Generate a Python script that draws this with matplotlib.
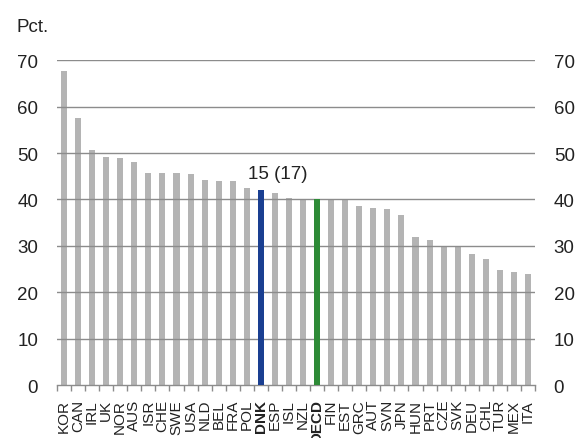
import matplotlib
matplotlib.use("Agg")
import matplotlib.pyplot as plt

plt.rcParams['font.family'] = ['Liberation Sans', 'DejaVu Sans']

countries = ["KOR", "CAN", "IRL", "UK", "NOR", "AUS", "ISR", "CHE", "SWE", "USA",
             "NLD", "BEL", "FRA", "POL", "DNK", "ESP", "ISL", "NZL", "OECD", "FIN",
             "EST", "GRC", "AUT", "SVN", "JPN", "HUN", "PRT", "CZE", "SVK", "DEU",
             "CHL", "TUR", "MEX", "ITA"]
values = [67.6, 57.5, 50.6, 49.1, 48.9, 48.0, 45.8, 45.8, 45.7, 45.5,
          44.1, 44.0, 43.9, 42.4, 42.0, 41.3, 40.4, 40.2, 40.1, 40.0,
          39.9, 38.5, 38.2, 37.9, 36.7, 32.0, 31.3, 29.9, 29.9, 28.2,
          27.1, 24.7, 24.4, 23.9]
yticks = [0, 10, 20, 30, 40, 50, 60, 70]
highlight = {"DNK": "#1a3f91", "OECD": "#2e8b37"}
annotation = "15 (17)"

fig = plt.figure(figsize=(5.79, 4.39), dpi=100)
ax = fig.add_axes([0.0984, 0.1207, 0.8256, 0.7397])

x = list(range(len(countries)))
grey_x = [i for i, c in enumerate(countries) if c not in highlight]
grey_v = [values[i] for i in grey_x]
ax.bar(grey_x, grey_v, width=0.43, color="#b4b4b4", zorder=1)
for c, col in highlight.items():
    i = countries.index(c)
    ax.bar([i], [values[i]], width=0.43, color=col, zorder=3)

for yv in yticks[1:]:
    ax.axhline(yv, color="#8c8c8c", lw=1.0, zorder=2)

ax.set_xlim(-0.5, len(countries) - 0.5)
ax.set_ylim(0, 70)
ax.set_yticks(yticks)
ax.tick_params(axis='y', length=0, labelsize=13.5, pad=13.5, colors="#222222",
               labelleft=True, labelright=True)
ax.tick_params(axis='y', which='major')
for lab in ax.get_yticklabels():
    pass
ax.yaxis.set_tick_params(labelright=True)

ax.set_xticks(x)
ax.set_xticklabels(countries, rotation=90, fontsize=11)
ax.tick_params(axis='x', length=0, pad=10, colors="#222222")
for lab in ax.get_xticklabels():
    if lab.get_text() in highlight:
        lab.set_fontweight('bold')
ax.set_xticks([i + 0.5 for i in range(-1, len(countries))], minor=True)
ax.tick_params(axis='x', which='minor', length=4, color="#8c8c8c", width=1)

for s in ["top", "left", "right"]:
    ax.spines[s].set_visible(False)
ax.spines["bottom"].set_color("#8c8c8c")
ax.spines["bottom"].set_linewidth(1.0)

i_dnk = countries.index("DNK")
ax.text(i_dnk + 1.2, 44.6, annotation, ha='center', va='baseline', fontsize=13.5,
        color="#222222")

fig.text(17 / 579, 1 - 32 / 439, "Pct.", ha='left', va='baseline', fontsize=13.5,
         color="#222222")

fig.canvas.draw()
# adjust right labels pad
for t in ax.yaxis.get_major_ticks():
    t.set_pad(13.5)
fig.savefig("out.png", dpi=100)
